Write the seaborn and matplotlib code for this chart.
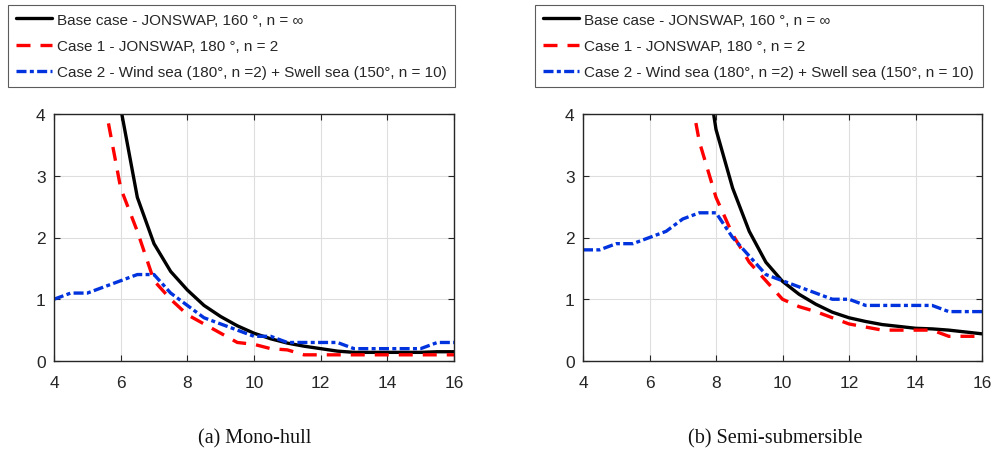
import numpy as np
import pandas as pd
import matplotlib
matplotlib.use("Agg")
import matplotlib.pyplot as plt
import seaborn as sns

# Wave period grid (s)
period = [4.0, 4.5, 5.0, 5.5, 6.0, 6.5, 7.0, 7.5, 8.0, 8.5, 9.0, 9.5, 10.0,
          10.5, 11.0, 11.5, 12.0, 12.5, 13.0, 13.5, 14.0, 14.5, 15.0, 15.5, 16.0]

# (a) Mono-hull responses (None = off scale)
mono_base = [None, None, None, None, 4.1, 2.65, 1.9, 1.45, 1.15, 0.9, 0.72, 0.57,
             0.45, 0.36, 0.29, 0.24, 0.2, 0.16, 0.14, 0.14, 0.14, 0.14, 0.14, 0.15, 0.15]
mono_case1 = [None, None, None, 4.23, 2.8, 2.1, 1.3, 1.0, 0.75, 0.6, 0.45, 0.3,
              0.27, 0.2, 0.18, 0.1, 0.1, 0.1, 0.1, 0.1, 0.1, 0.1, 0.1, 0.1, 0.1]
mono_case2 = [1.0, 1.1, 1.1, 1.2, 1.3, 1.4, 1.4, 1.1, 0.9, 0.7, 0.6, 0.5,
              0.4, 0.4, 0.3, 0.3, 0.3, 0.3, 0.2, 0.2, 0.2, 0.2, 0.2, 0.3, 0.3]

# (b) Semi-submersible responses
semi_base = [None, None, None, None, None, None, None, 5.5, 3.75, 2.8, 2.1, 1.6,
             1.29, 1.08, 0.92, 0.79, 0.7, 0.64, 0.59, 0.56, 0.53, 0.52, 0.5, 0.47, 0.44]
semi_case1 = [None, None, None, None, None, None, 5.0, 3.55, 2.65, 2.05, 1.6, 1.3,
              1.0, 0.88, 0.8, 0.7, 0.6, 0.55, 0.5, 0.5, 0.5, 0.5, 0.4, 0.4, 0.4]
semi_case2 = [1.8, 1.8, 1.9, 1.9, 2.0, 2.1, 2.3, 2.4, 2.4, 2.0, 1.7, 1.4,
              1.3, 1.2, 1.1, 1.0, 1.0, 0.9, 0.9, 0.9, 0.9, 0.9, 0.8, 0.8, 0.8]

series_labels = [
    "Base case - JONSWAP, 160 °, n = ∞",
    "Case 1 - JONSWAP, 180 °, n = 2",
    "Case 2 - Wind sea (180°, n =2) + Swell sea (150°, n = 10)",
]
captions = ["(a) Mono-hull", "(b) Semi-submersible"]
x_ticks = [4, 6, 8, 10, 12, 14, 16]
y_ticks = [0, 1, 2, 3, 4]

sns.set_theme(style="white")
plt.rcParams["font.family"] = ["Liberation Sans", "DejaVu Sans"]

colors = ["black", "#ff0000", "#0033dd"]
styles = ["-", (0, (4.2, 3.0)), (0, (3.0, 1.0, 1.2, 1.0))]
LW = 2.4

W, H = 993, 452
fig = plt.figure(figsize=(W / 100, H / 100), dpi=100)


def px_axes(x0, y0, x1, y1):
    return fig.add_axes([x0 / W, 1 - y1 / H, (x1 - x0) / W, (y1 - y0) / H])


panels = [
    (px_axes(54, 115, 454, 362), [mono_base, mono_case1, mono_case2], (8, 455), 255),
    (px_axes(583, 115, 982, 362), [semi_base, semi_case1, semi_case2], (535, 983), 775),
]

for i, (ax, data, (lx0, lx1), cap_x) in enumerate(panels):
    for vals, c, ls, lab in zip(data, colors, styles, series_labels):
        df = pd.DataFrame({"T": period, "R": vals}).dropna()
        df["R"] = df["R"].astype(float)
        sns.lineplot(data=df, x="T", y="R", ax=ax, color=c, linewidth=LW,
                     linestyle=ls, label=lab, legend=False)
    ax.set_xlim(4, 16)
    ax.set_ylim(0, 4)
    ax.set_xticks(x_ticks)
    ax.set_yticks(y_ticks)
    ax.set_xlabel("")
    ax.set_ylabel("")
    ax.grid(True, color="#dedede", linewidth=0.8)
    ax.set_axisbelow(True)
    for s in ax.spines.values():
        s.set_color("#262626")
        s.set_linewidth(1.0)
    ax.tick_params(direction="in", length=4, width=0.8, color="#262626",
                   top=True, right=True, bottom=True, left=True,
                   labelsize=12.5, labelcolor="#262626")
    ax.tick_params(axis="x", pad=10)
    ax.tick_params(axis="y", pad=6)
    h, l = ax.get_legend_handles_labels()
    leg = fig.legend(h, l, loc="upper left",
                     bbox_to_anchor=(lx0 / W, 1 - 6 / H, (lx1 - lx0) / W, 0),
                     mode="expand", borderaxespad=0, fontsize=11,
                     frameon=True, fancybox=False, edgecolor="#333333",
                     handlelength=2.4, handletextpad=0.3, labelspacing=0.8,
                     borderpad=0.5)
    leg.get_frame().set_linewidth(0.8)
    fig.text(cap_x / W, 1 - 439 / H, captions[i], ha="center", va="center",
             family="Liberation Serif", fontsize=14.5, color="#111111")

fig.savefig("out.png", dpi=100)
